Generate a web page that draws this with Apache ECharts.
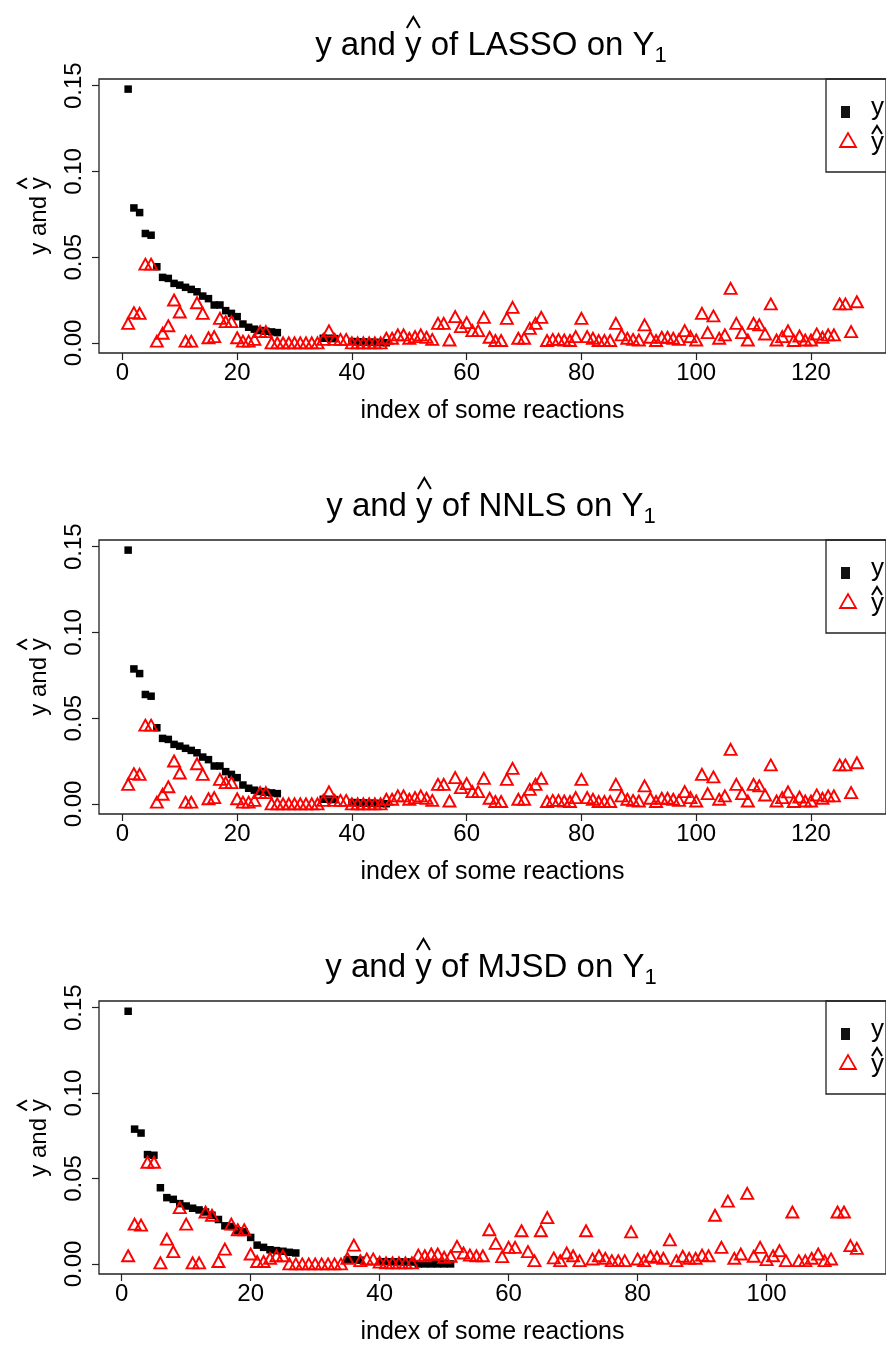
<!DOCTYPE html>
<html><head><meta charset="utf-8">
<script src="https://cdn.jsdelivr.net/npm/echarts@6/dist/echarts.min.js"></script>
<style>html,body{margin:0;padding:0;background:#fff}#c{width:886px;height:1346px}</style>
</head><body><div id="c"></div>
<script>
// ---------------- data ----------------
const methods = ['LASSO', 'NNLS', 'MJSD'];
const xTicks12 = [0, 20, 40, 60, 80, 100, 120];
const xTicks3 = [0, 20, 40, 60, 80, 100];
const yTicks = [0, 0.05, 0.10, 0.15];

// observed y (index 1..n), null = not drawn
const lassoY = [
  0.148, 0.0787, 0.076, 0.0638, 0.0628, 0.0444, 0.0382, 0.0376, 0.0347, 0.0337,
  0.0324, 0.0312, 0.0298, 0.0273, 0.0258, 0.0221, 0.0221, 0.0188, 0.0172, 0.0153,
  0.011, 0.0091, 0.008, 0.0072, 0.0068, 0.0064, 0.006, null, null, null,
  null, null, null, null, 0.0027, 0.0027, 0.0025, null, null, 0.0008,
  0.0006, 0.0005, 0.0004, 0.0003, 0.0002, 0.0001
];
const lassoHat = [
  0.0114, 0.0176, 0.0172, 0.0459, 0.0459, 0.001, 0.0056, 0.010, 0.025, 0.018,
  0.001, 0.001, 0.0234, 0.0172, 0.003, 0.0037, 0.0143, 0.0124, 0.0124, 0.003,
  0.001, 0.001, 0.002, 0.0066, 0.0066, 0, 0, 0, 0, 0,
  0, 0, 0, 0, 0.002, 0.007, 0.002, 0.002, 0.002, 0,
  0, 0, 0, 0, 0, 0.0027, 0.0027, 0.0047, 0.0047, 0.0027,
  0.0037, 0.0047, 0.0033, 0.002, 0.0114, 0.0114, 0.0017, 0.0153, 0.0095, 0.0118,
  0.0072, 0.0072, 0.0149, 0.0033, 0.0014, 0.0014, 0.0143, 0.0207, 0.0027, 0.0027,
  0.0085, 0.0114, 0.0149, 0.0014, 0.002, 0.002, 0.0017, 0.0014, 0.0037, 0.0143,
  0.0037, 0.0027, 0.0014, 0.0014, 0.0014, 0.0114, 0.0047, 0.0027, 0.002, 0.0017,
  0.0105, 0.0033, 0.0014, 0.0033, 0.0033, 0.0027, 0.002, 0.0072, 0.0037, 0.0017,
  0.0172, 0.006, 0.0157, 0.0027, 0.0047, 0.0318, 0.0114, 0.006, 0.0017, 0.0114,
  0.0105, 0.0052, 0.0227, 0.0017, 0.0037, 0.007, 0.0014, 0.004, 0.0017, 0.0017,
  0.0052, 0.0033, 0.0047, 0.0047, 0.0227, 0.0227, 0.0066, 0.024
];
const nnlsY = [
  0.148, 0.0787, 0.076, 0.0638, 0.0628, 0.0444, 0.0382, 0.0376, 0.0347, 0.0337,
  0.0324, 0.0312, 0.0298, 0.0273, 0.0258, 0.0221, 0.0221, 0.0188, 0.0172, 0.0153,
  0.011, 0.0091, 0.008, 0.0072, 0.0068, 0.0064, 0.006, null, null, null,
  null, null, null, null, 0.0027, 0.0027, 0.0025, null, null, 0.0008,
  0.0006, 0.0005, 0.0004, 0.0003, 0.0002, 0.0001
];
const nnlsHat = [
  0.0114, 0.0176, 0.0172, 0.0459, 0.0459, 0.001, 0.0056, 0.010, 0.025, 0.018,
  0.001, 0.001, 0.0234, 0.0172, 0.003, 0.0037, 0.0143, 0.0124, 0.0124, 0.003,
  0.001, 0.001, 0.002, 0.0066, 0.0066, 0, 0, 0, 0, 0,
  0, 0, 0, 0, 0.002, 0.007, 0.002, 0.002, 0.002, 0,
  0, 0, 0, 0, 0, 0.0027, 0.0027, 0.0047, 0.0047, 0.0027,
  0.0037, 0.0047, 0.0033, 0.002, 0.0114, 0.0114, 0.0017, 0.0153, 0.0095, 0.0118,
  0.0072, 0.0072, 0.0149, 0.0033, 0.0014, 0.0014, 0.0143, 0.0207, 0.0027, 0.0027,
  0.0085, 0.0114, 0.0149, 0.0014, 0.002, 0.002, 0.0017, 0.0014, 0.0037, 0.0143,
  0.0037, 0.0027, 0.0014, 0.0014, 0.0014, 0.0114, 0.0047, 0.0027, 0.002, 0.0017,
  0.0105, 0.0033, 0.0014, 0.0033, 0.0033, 0.0027, 0.002, 0.0072, 0.0037, 0.0017,
  0.0172, 0.006, 0.0157, 0.0027, 0.0047, 0.0318, 0.0114, 0.006, 0.0017, 0.0114,
  0.0105, 0.0052, 0.0227, 0.0017, 0.0037, 0.007, 0.0014, 0.004, 0.0017, 0.0017,
  0.0052, 0.0033, 0.0047, 0.0047, 0.0227, 0.0227, 0.0066, 0.024
];
const mjsdY = [
  0.1479, 0.0789, 0.0766, 0.064, 0.0636, 0.0446, 0.0388, 0.0378, 0.0353, 0.0339,
  0.0326, 0.0316, 0.0304, 0.0285, 0.026, 0.0223, 0.0219, 0.0194, 0.0188, 0.0155,
  0.011, 0.0097, 0.0083, 0.0078, 0.0074, 0.0068, 0.0064, null, null, null,
  null, null, null, null, 0.0025, 0.0025, 0.0022, null, null, 0.0013,
  0.0013, 0.0012, 0.0012, 0.0011, 0.0011, 0, 0, 0, 0, 0,
  0
];
const mjsdHat = [
  0.0048, 0.0233, 0.0227, 0.0595, 0.0595, 0.0006, 0.0145, 0.0072, 0.033, 0.0233,
  0.0006, 0.0006, 0.0304, 0.0285, 0.0014, 0.0087, 0.0233, 0.02, 0.02, 0.0058,
  0.0014, 0.0014, 0.0033, 0.0048, 0.0048, 0, 0, 0, 0, 0,
  0, 0, 0, 0, 0.0033, 0.011, 0.0019, 0.0029, 0.0029, 0.001,
  0.0006, 0.0006, 0.0006, 0.0006, 0.0006, 0.0052, 0.0048, 0.0058, 0.0058, 0.0039,
  0.0045, 0.0103, 0.0064, 0.0052, 0.0048, 0.0048, 0.02, 0.012, 0.0043, 0.0097,
  0.0097, 0.0194, 0.0072, 0.0019, 0.0194, 0.0271, 0.0035, 0.0019, 0.0064, 0.0048,
  0.0019, 0.0194, 0.0029, 0.0048, 0.0033, 0.0019, 0.0019, 0.0019, 0.0188, 0.0029,
  0.0019, 0.0045, 0.0039, 0.0033, 0.0141, 0.0019, 0.0045, 0.0033, 0.0033, 0.0052,
  0.0048, 0.0285, 0.0097, 0.0368, 0.0033, 0.0058, 0.0413, 0.0045, 0.0097, 0.0025,
  0.0048, 0.0078, 0.0019, 0.0304, 0.0019, 0.0019, 0.0033, 0.0058, 0.0019, 0.0029,
  0.0304, 0.0304, 0.0107, 0.0091
];

// ---------------- layout ----------------
const FONT = "'Liberation Sans', Arial, sans-serif";
const panelTop = [79, 540, 1001];
const panelH = 274;
const panelLeft = 99;
const panelRight = -9;
const ys = [lassoY, nnlsY, mjsdY];
const hats = [lassoHat, nnlsHat, mjsdHat];
const xRanges = [[-4.08, 133.08], [-4.08, 133.08], [-3.52, 118.52]];
const xTickSets = [xTicks12, xTicks12, xTicks3];

const cv = document.createElement('canvas').getContext('2d');
function tw(t, size) { cv.font = size + 'px ' + FONT; return cv.measureText(t).width; }
function toPairs(arr) {
  const out = [];
  arr.forEach((v, i) => { if (v !== null) out.push([i + 1, v]); });
  return out;
}
function txt(x, y, text, size, extra) {
  return Object.assign({
    type: 'text', x: x, y: y, silent: true,
    style: { text: text, font: size + 'px ' + FONT, fill: '#000', textAlign: 'left', textVerticalAlign: 'middle', align: 'left', verticalAlign: 'middle' }
  }, extra || {});
}
function hat(cx, top, w, h) {
  return { type: 'polyline', silent: true, shape: { points: [[cx - w / 2, top + h], [cx, top], [cx + w / 2, top + h]] },
    style: { stroke: '#000', lineWidth: 2, fill: null } };
}

const grids = [], xAxes = [], yAxes = [], series = [], graphics = [];
for (let k = 0; k < 3; k++) {
  const T = panelTop[k] - panelTop[0];
  grids.push({ left: panelLeft, right: panelRight, top: panelTop[k], height: panelH, show: true,
    borderColor: '#222', borderWidth: 1.3, backgroundColor: 'transparent' });
  xAxes.push({ type: 'value', gridIndex: k, min: xRanges[k][0], max: xRanges[k][1], position: 'bottom',
    axisLine: { show: false, onZero: false }, splitLine: { show: false },
    axisTick: { show: true, inside: false, length: 7, customValues: xTickSets[k], lineStyle: { color: '#222', width: 1.2 } },
    axisLabel: { customValues: xTickSets[k], fontSize: 24, fontFamily: FONT, color: '#000', margin: 8 },
    name: 'index of some reactions', nameLocation: 'middle', nameGap: 46,
    nameTextStyle: { fontSize: 25, fontFamily: FONT, color: '#000' } });
  yAxes.push({ type: 'value', gridIndex: k, min: -0.0059, max: 0.1539, position: 'left',
    axisLine: { show: false, onZero: false }, splitLine: { show: false },
    axisTick: { show: true, inside: false, length: 7, customValues: yTicks, lineStyle: { color: '#222', width: 1.2 } },
    axisLabel: { customValues: yTicks, rotate: 90, fontSize: 24, fontFamily: FONT, color: '#000', margin: 13,
      formatter: v => Number(v).toFixed(2) } });
  series.push({ type: 'scatter', xAxisIndex: k, yAxisIndex: k, name: 'y', data: toPairs(ys[k]),
    symbol: 'rect', symbolSize: 7.5, itemStyle: { color: '#000', opacity: 1 }, silent: true, z: 2 });
  series.push({ type: 'scatter', xAxisIndex: k, yAxisIndex: k, name: 'yhat', data: toPairs(hats[k]),
    symbol: 'triangle', symbolSize: [12, 11],
    itemStyle: { color: 'rgba(255,255,255,0)', borderColor: '#ff0000', borderWidth: 1.9, opacity: 1 }, silent: true, z: 3 });

  // title
  const s = 33, sub = 22;
  const p1 = 'y and ', p2 = 'y', p3 = ' of ' + methods[k] + ' on Y', p4 = '1';
  const w1 = tw(p1, s), w2 = tw(p2, s), w3 = tw(p3, s), w4 = tw(p4, sub);
  const x0 = 491 - (w1 + w2 + w3 + w4) / 2;
  const ty = 46 + T;
  graphics.push(txt(x0, ty, p1, s));
  graphics.push(txt(x0 + w1, ty, p2, s));
  graphics.push(hat(x0 + w1 + w2 / 2, 17 + T, 13, 11));
  graphics.push(txt(x0 + w1 + w2, ty, p3, s));
  graphics.push(txt(x0 + w1 + w2 + w3, ty + 10, p4, sub));

  // y axis name (rotated)
  const ns = 24;
  const q1 = 'y and ', q2 = 'y';
  const v1 = tw(q1, ns), v2 = tw(q2, ns);
  const lx = -(v1 + v2) / 2;
  graphics.push({ type: 'group', x: 39, y: panelTop[k] + panelH / 2, rotation: Math.PI / 2, silent: true,
    children: [ txt(lx, 0, q1, ns), txt(lx + v1, 0, q2, ns), hat(lx + v1 + v2 / 2, -21, 10, 9) ] });

  // legend
  const L = panelTop[k];
  graphics.push({ type: 'rect', silent: true, shape: { x: 826, y: L, width: 100, height: 93 },
    style: { stroke: '#222', lineWidth: 1.3, fill: null } });
  graphics.push({ type: 'rect', silent: true, shape: { x: 841, y: L + 27, width: 9, height: 12 },
    style: { fill: '#111' } });
  graphics.push(txt(871, L + 29, 'y', 26));
  graphics.push({ type: 'polygon', silent: true, shape: { points: [[840, L + 68], [856, L + 68], [848, L + 54]] },
    style: { stroke: '#ff0000', lineWidth: 1.8, fill: null } });
  graphics.push(txt(871, L + 64, 'y', 26));
  graphics.push(hat(877, L + 47, 10, 8));
}

const chart = echarts.init(document.getElementById('c'), null, { renderer: 'canvas' });
chart.setOption({
  animation: false,
  backgroundColor: '#fff',
  grid: grids, xAxis: xAxes, yAxis: yAxes, series: series,
  graphic: graphics
});
</script></body></html>
